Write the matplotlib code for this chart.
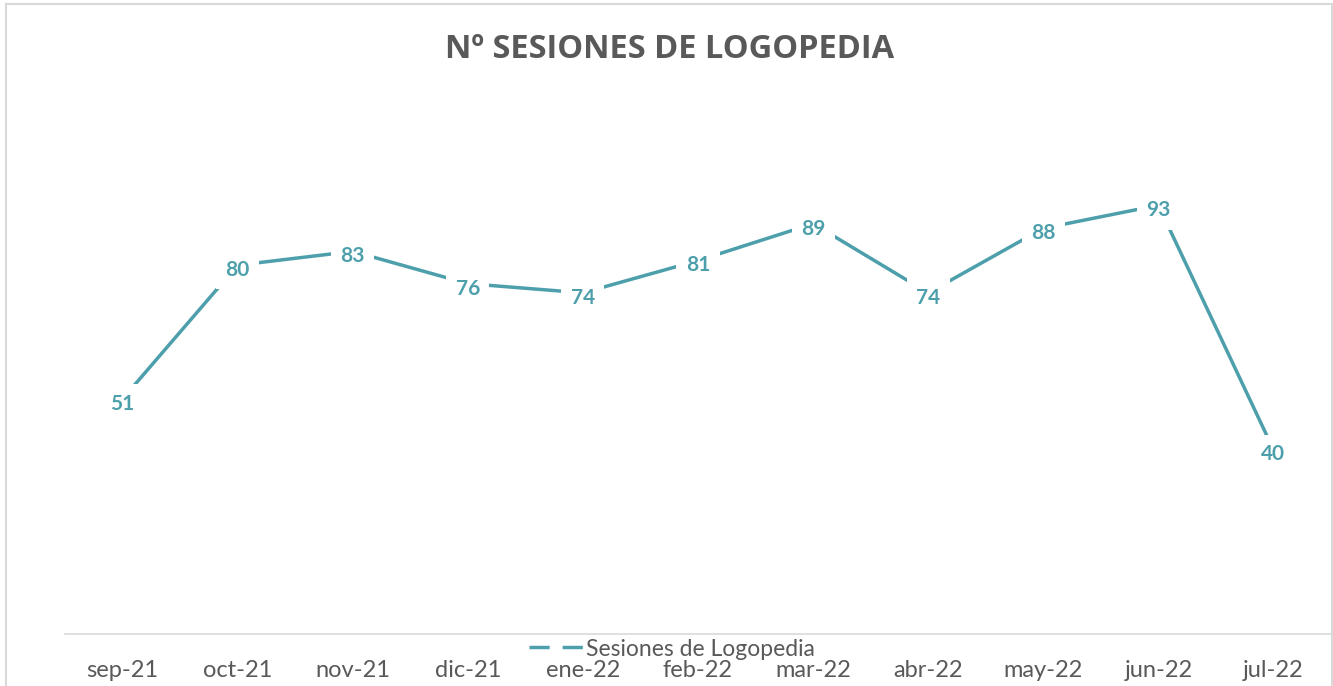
import matplotlib
matplotlib.use("Agg")
import matplotlib.pyplot as plt
from matplotlib.lines import Line2D

months = ["sep-21", "oct-21", "nov-21", "dic-21", "ene-22", "feb-22",
          "mar-22", "abr-22", "may-22", "jun-22", "jul-22"]
sesiones = [51, 80, 83, 76, 74, 81, 89, 74, 88, 93, 40]

LINE = "#4DA0AB"
GRAY = "#595959"

W, H = 1333, 686
fig = plt.figure(figsize=(W / 100, H / 100), dpi=100)
ax = fig.add_axes([65 / W, 52 / H, (1331 - 65) / W, (634 - 173) / H])

x = list(range(len(months)))
ax.plot(x, sesiones, color=LINE, linewidth=2.5, solid_capstyle="butt",
        label="Sesiones de Logopedia")
for xi, v in zip(x, sesiones):
    ax.annotate(str(v), (xi, v), xytext=(0, -3.5), textcoords="offset points",
                ha="center", va="center", fontsize=15, fontweight="bold",
                color=LINE, family="Lato",
                bbox=dict(boxstyle="square,pad=0.45", fc="white", ec="none"))

ax.set_xlim(-0.5, len(months) - 0.5)
ax.set_ylim(0, 100)
ax.set_yticks([])
ax.set_xticks(x)
ax.set_xticklabels(months, fontsize=17, color=GRAY, family="Lato")
ax.tick_params(axis="x", length=0, pad=19)
for s in ["left", "right", "top"]:
    ax.spines[s].set_visible(False)
ax.spines["bottom"].set_color("#D9D9D9")
ax.spines["bottom"].set_linewidth(1.2)

fig.text(0.502, 1 - 49 / H, "Nº SESIONES DE LOGOPEDIA", ha="center", va="center",
         fontsize=23.5, fontweight="bold", color=GRAY, family="Open Sans")

handle = Line2D([], [], color=LINE, linewidth=2.5, linestyle=(0, (5.8, 3.75)),
                dash_capstyle="butt")
fig.legend(handles=[handle], labels=["Sesiones de Logopedia"], loc="center",
           bbox_to_anchor=(0.504, (H - 649) / H), frameon=False,
           prop=dict(family="Lato", size=16.5), labelcolor=GRAY,
           handlelength=2.4, handletextpad=0.1)

# chart border (left, top, right)
bc = "#D9D9D9"
fig.add_artist(Line2D([6 / W, 6 / W], [0, 1 - 4 / H], color=bc, linewidth=1.5, transform=fig.transFigure))
fig.add_artist(Line2D([6 / W, 1332 / W], [1 - 4 / H, 1 - 4 / H], color=bc, linewidth=1.5, transform=fig.transFigure))
fig.add_artist(Line2D([1332 / W, 1332 / W], [0, 1 - 4 / H], color=bc, linewidth=1.5, transform=fig.transFigure))

fig.savefig("out.png", dpi=100)
